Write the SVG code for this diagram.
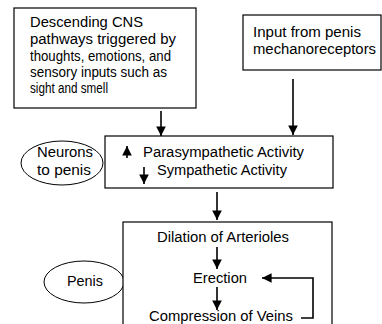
<svg xmlns="http://www.w3.org/2000/svg" width="382" height="324" viewBox="0 0 382 324">
<style>
.box{fill:#fff;stroke:#000;stroke-width:1.2}
.ell{fill:#fff;stroke:#000;stroke-width:1}
.t{font-family:"Liberation Sans",Arial,sans-serif;font-size:14px;fill:#000}
.c{text-anchor:middle}
.ln{fill:none;stroke:#000;stroke-width:1.6}
</style>
<defs>
<marker id="ahb" viewBox="0 0 10 10" refX="10" refY="5" markerWidth="6" markerHeight="6" orient="auto">
<path d="M0,0 L10,5 L0,10 z" fill="#000"/>
</marker>
</defs>
<g id="cns">
<rect class="box" x="14" y="8" width="182" height="100"/>
<text class="t" x="30" y="27" textLength="113" lengthAdjust="spacingAndGlyphs">Descending CNS</text>
<text class="t" x="30" y="44" textLength="146" lengthAdjust="spacingAndGlyphs">pathways triggered by</text>
<text class="t" x="30" y="61" textLength="141" lengthAdjust="spacingAndGlyphs">thoughts, emotions, and</text>
<text class="t" x="30" y="77" textLength="137" lengthAdjust="spacingAndGlyphs">sensory inputs such as</text>
<text class="t" x="30" y="93" textLength="78" lengthAdjust="spacingAndGlyphs">sight and smell</text>
</g>
<g id="mechano">
<rect class="box" x="243" y="15" width="138" height="55"/>
<text class="t" x="253" y="37" textLength="108" lengthAdjust="spacingAndGlyphs">Input from penis</text>
<text class="t" x="253" y="54" textLength="123" lengthAdjust="spacingAndGlyphs">mechanoreceptors</text>
</g>
<g id="neurons">
<ellipse class="ell" cx="62" cy="163" rx="41" ry="22"/>
<text class="t c" x="65" y="157" textLength="56" lengthAdjust="spacingAndGlyphs">Neurons</text>
<text class="t c" x="64" y="175" textLength="54" lengthAdjust="spacingAndGlyphs">to penis</text>
</g>
<g id="activity">
<rect class="box" x="105" y="136" width="228" height="52"/>
<text class="t" x="143" y="157" textLength="161" lengthAdjust="spacingAndGlyphs">Parasympathetic Activity</text>
<text class="t" x="157" y="175" textLength="130" lengthAdjust="spacingAndGlyphs">Sympathetic Activity</text>
<line class="ln" x1="127" y1="158" x2="127" y2="146" marker-end="url(#ahb)"/>
<line class="ln" x1="144" y1="167" x2="144" y2="184" marker-end="url(#ahb)"/>
</g>
<g id="penis">
<ellipse class="ell" cx="84" cy="282" rx="40" ry="21"/>
<text class="t c" x="85" y="286" textLength="36" lengthAdjust="spacingAndGlyphs">Penis</text>
</g>
<g id="response">
<rect class="box" x="123" y="222" width="209" height="110"/>
<text class="t c" x="223" y="242" textLength="132" lengthAdjust="spacingAndGlyphs">Dilation of Arterioles</text>
<text class="t c" x="220" y="283" textLength="54" lengthAdjust="spacingAndGlyphs">Erection</text>
<text class="t c" x="221" y="321" textLength="144" lengthAdjust="spacingAndGlyphs">Compression of Veins</text>
</g>
<g id="connectors">
<line class="ln" x1="161" y1="111" x2="161" y2="136" marker-end="url(#ahb)"/>
<line class="ln" x1="293" y1="79" x2="293" y2="135" marker-end="url(#ahb)"/>
<line class="ln" x1="217" y1="192" x2="217" y2="220" marker-end="url(#ahb)"/>
<line class="ln" x1="217" y1="247" x2="217" y2="269" marker-end="url(#ahb)"/>
<line class="ln" x1="217" y1="287" x2="217" y2="310" marker-end="url(#ahb)"/>
<polyline class="ln" points="301,318 313,318 313,278 262,278" marker-end="url(#ahb)"/>
</g>
</svg>
